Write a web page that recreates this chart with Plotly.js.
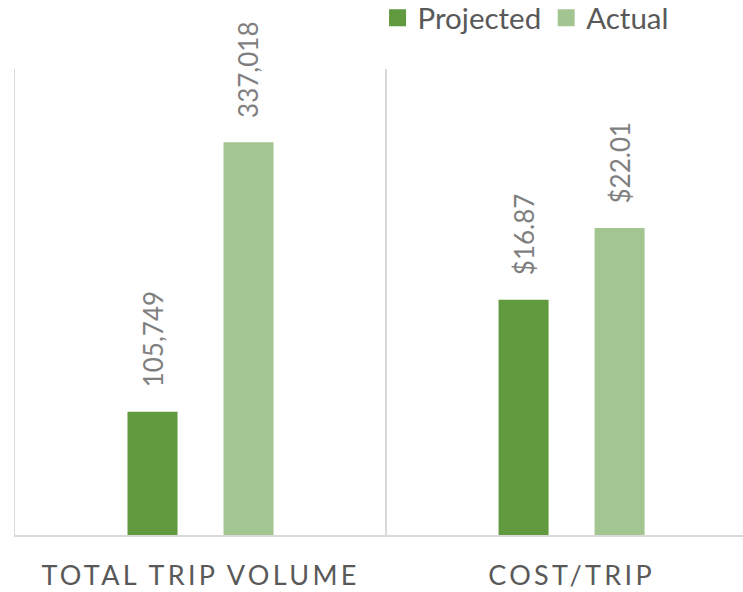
<!DOCTYPE html>
<html>
<head>
<meta charset="utf-8">
<script src="https://cdn.plot.ly/plotly-3.0.1.min.js"></script>
<style>
html,body{margin:0;padding:0;background:#fff;}
#chart{width:743px;height:592px;}
.xtick text{letter-spacing:3.3px;}
.legend .traces:nth-child(1) .legendpoints path{stroke:#619A3E !important;stroke-width:5px !important;}
.legend .traces:nth-child(2) .legendpoints path{stroke:#A2C591 !important;stroke-width:5px !important;}
</style>
</head>
<body>
<div id="chart"></div>
<script>
// Data
var seriesNames = ["Projected", "Actual"];
var volumeCategory = ["TOTAL TRIP VOLUME"];
var costCategory = ["COST/TRIP"];
var projectedVolume = [105749];
var actualVolume = [337018];
var projectedCost = [16.87];
var actualCost = [22.01];
var volumeLabels = ["105,749", "337,018"];
var costLabels = ["$16.87", "$22.01"];

var darkGreen = "#619A3E";
var lightGreen = "#A2C591";
var font = "Lato, 'Open Sans', sans-serif";

function mk(c){ return {color:c, line:{color:c, width:0}}; }

var traces = [
  {type:"bar", name:seriesNames[0], x:volumeCategory, y:projectedVolume, marker:mk(darkGreen), xaxis:"x", yaxis:"y", hoverinfo:"none"},
  {type:"bar", name:seriesNames[1], x:volumeCategory, y:actualVolume, marker:mk(lightGreen), xaxis:"x", yaxis:"y", hoverinfo:"none"},
  {type:"bar", name:seriesNames[0], x:costCategory, y:projectedCost, marker:mk(darkGreen), xaxis:"x", yaxis:"y2", showlegend:false, hoverinfo:"none"},
  {type:"bar", name:seriesNames[1], x:costCategory, y:actualCost, marker:mk(lightGreen), xaxis:"x", yaxis:"y2", showlegend:false, hoverinfo:"none"}
];

var annotations = [];
function addLabel(cat, val, txt, yref, shift){
  annotations.push({x:cat, y:val, xref:"x", yref:yref, text:txt, showarrow:false,
    textangle:-90, xanchor:"center", yanchor:"bottom", xshift:shift, yshift:22,
    font:{family:font, size:26, color:"#7F7F7F"}});
}
addLabel(volumeCategory[0], projectedVolume[0], volumeLabels[0], "y", -48);
addLabel(volumeCategory[0], actualVolume[0], volumeLabels[1], "y", 48);
addLabel(costCategory[0], projectedCost[0], costLabels[0], "y2", -48);
addLabel(costCategory[0], actualCost[0], costLabels[1], "y2", 48);

var layout = {
  width:743, height:592,
  margin:{l:15, r:0, t:69, b:57, autoexpand:false},
  paper_bgcolor:"#fff", plot_bgcolor:"#fff",
  barmode:"group", bargap:0.4825, bargroupgap:0.479,
  showlegend:true,
  legend:{orientation:"h", x:0.498, xanchor:"left", y:1.165, yanchor:"top",
    font:{family:font, size:29.5, color:"#595959"}, itemwidth:30, traceorder:"normal"},
  xaxis:{type:"category", categoryarray:["TOTAL TRIP VOLUME","COST/TRIP"], categoryorder:"array",
    range:[-0.5, 1.462], tickson:"boundaries", showgrid:true, gridcolor:"#D9D9D9", gridwidth:1.5,
    showline:true, linecolor:"#D9D9D9", linewidth:1.5, ticks:"", ticklabelstandoff:16,
    tickfont:{family:font, size:27, color:"#595959"}, fixedrange:true, zeroline:false},
  yaxis:{range:[0,400000], visible:true, showline:true, linecolor:"#D9D9D9", linewidth:1.5,
    showticklabels:false, ticks:"", showgrid:false, zeroline:false, fixedrange:true},
  yaxis2:{range:[0,33.4], overlaying:"y", visible:false, showgrid:false, zeroline:false, fixedrange:true},
  annotations:annotations
};

Plotly.newPlot("chart", traces, layout, {displayModeBar:false, staticPlot:true});
</script>
</body>
</html>
